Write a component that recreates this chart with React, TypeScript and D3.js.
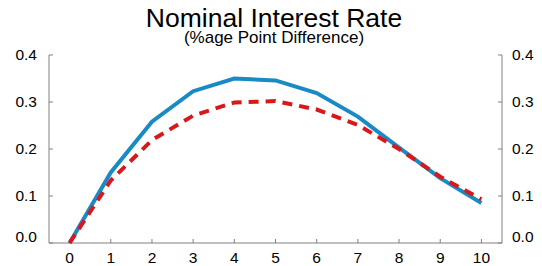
import React, { useEffect, useRef } from "react";
import * as d3 from "d3";

const horizons = [0, 1, 2, 3, 4, 5, 6, 7, 8, 9, 10];
const solidSeries = [0, 0.15, 0.258, 0.323, 0.35, 0.346, 0.319, 0.269, 0.203, 0.138, 0.085];
const dashedSeries = [0, 0.133, 0.219, 0.271, 0.299, 0.302, 0.284, 0.251, 0.2, 0.141, 0.093];
const yTicks = [0, 0.1, 0.2, 0.3, 0.4];

const W = 542,
  H = 266;
const margin = { top: 55, right: 40, bottom: 23, left: 49 };

export default function App() {
  const ref = useRef<SVGSVGElement>(null);

  useEffect(() => {
    const svg = d3.select(ref.current);
    svg.selectAll("*").remove();
    const w = W - margin.left - margin.right;
    const h = H - margin.top - margin.bottom;

    const x = d3.scaleLinear().domain([-0.5, 10.5]).range([margin.left, margin.left + w]);
    const y = d3.scaleLinear().domain([0, 0.4]).range([margin.top + h, margin.top]);

    const font = "Liberation Sans, Arial, sans-serif";
    const axisColor = "#808080";

    // frame: left, bottom, right
    svg
      .append("path")
      .attr(
        "d",
        `M${margin.left},${margin.top}V${margin.top + h}H${margin.left + w}V${margin.top}`
      )
      .attr("fill", "none")
      .attr("stroke", axisColor)
      .attr("stroke-width", 1);

    // y ticks, both sides, pointing inward
    yTicks.forEach((t) => {
      // the 0.0 label sits a little higher so it clears the x labels
      const dy = t === 0 ? -1 : 5;
      svg
        .append("line")
        .attr("x1", margin.left)
        .attr("x2", margin.left + 4)
        .attr("y1", y(t))
        .attr("y2", y(t))
        .attr("stroke", axisColor);
      svg
        .append("line")
        .attr("x1", margin.left + w)
        .attr("x2", margin.left + w - 4)
        .attr("y1", y(t))
        .attr("y2", y(t))
        .attr("stroke", axisColor);
      svg
        .append("text")
        .attr("x", margin.left - 12)
        .attr("y", y(t) + dy)
        .attr("text-anchor", "end")
        .style("font-family", font)
        .style("font-size", "15.5px")
        .text(d3.format(".1f")(t));
      svg
        .append("text")
        .attr("x", margin.left + w + 10)
        .attr("y", y(t) + dy)
        .attr("text-anchor", "start")
        .style("font-family", font)
        .style("font-size", "15.5px")
        .text(d3.format(".1f")(t));
    });

    horizons.forEach((t) => {
      svg
        .append("line")
        .attr("x1", x(t))
        .attr("x2", x(t))
        .attr("y1", margin.top + h)
        .attr("y2", margin.top + h - 4)
        .attr("stroke", axisColor);
      svg
        .append("text")
        .attr("x", x(t))
        .attr("y", margin.top + h + 19.5)
        .attr("text-anchor", "middle")
        .style("font-family", font)
        .style("font-size", "15.5px")
        .text(t);
    });

    const line = d3
      .line<number>()
      .x((d, i) => x(horizons[i]))
      .y((d) => y(d));

    svg
      .append("path")
      .datum(solidSeries)
      .attr("d", line)
      .attr("fill", "none")
      .attr("stroke", "#1a8ac4")
      .attr("stroke-width", 4);

    svg
      .append("path")
      .datum(dashedSeries)
      .attr("d", line)
      .attr("fill", "none")
      .attr("stroke", "#d7191c")
      .attr("stroke-width", 4)
      .attr("stroke-dasharray", "10,7");

    svg
      .append("text")
      .attr("x", 274)
      .attr("y", 26.5)
      .attr("text-anchor", "middle")
      .style("font-family", font)
      .style("font-size", "26.5px")
      .text("Nominal Interest Rate");

    svg
      .append("text")
      .attr("x", 274)
      .attr("y", 43)
      .attr("text-anchor", "middle")
      .style("font-family", font)
      .style("font-size", "17px")
      .text("(%age Point Difference)");
  }, []);

  return (
    <svg
      ref={ref}
      width={W}
      height={H}
      style={{ position: "absolute", left: 0, top: 0, background: "#fff" }}
    />
  );
}
